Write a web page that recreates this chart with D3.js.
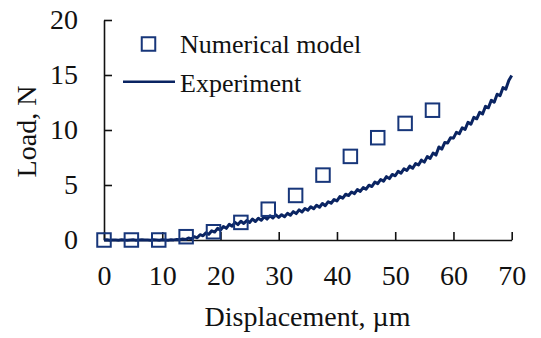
<!DOCTYPE html>
<html>
<head>
<meta charset="utf-8">
<script src="https://cdn.jsdelivr.net/npm/d3@7"></script>
<style>
  html, body { margin: 0; padding: 0; background: #fff; }
  svg { display: block; }
  text { font-family: "Liberation Serif", "Times New Roman", serif; fill: #111; }
</style>
</head>
<body>
<svg id="chart" width="541" height="338"></svg>
<script>
// Numerical model: displacement (µm) and load (N)
const modelDisp = [0, 4.7, 9.4, 14.1, 18.8, 23.5, 28.2, 32.9, 37.6, 42.3, 47.0, 51.7, 56.4];
const modelLoad = [0, 0, 0, 0.3, 0.75, 1.6, 2.8, 4.05, 5.9, 7.6, 9.3, 10.6, 11.8];

// Experiment: measured load trace
const expDisp = [
  0, 0.5, 1, 1.5, 2, 2.5, 3, 3.5, 4, 4.5, 5, 5.5, 6, 6.5, 7, 7.5, 8, 8.5, 9, 9.5,
  10, 10.5, 11, 11.5, 12, 12.5, 13, 13.5, 14, 14.5, 15, 15.5, 16, 16.5, 17, 17.5, 18, 18.5, 19, 19.5,
  20, 20.5, 21, 21.5, 22, 22.5, 23, 23.5, 24, 24.5, 25, 25.5, 26, 26.5, 27, 27.5, 28, 28.5, 29, 29.5,
  30, 30.5, 31, 31.5, 32, 32.5, 33, 33.5, 34, 34.5, 35, 35.5, 36, 36.5, 37, 37.5, 38, 38.5, 39, 39.5,
  40, 40.5, 41, 41.5, 42, 42.5, 43, 43.5, 44, 44.5, 45, 45.5, 46, 46.5, 47, 47.5, 48, 48.5, 49, 49.5,
  50, 50.5, 51, 51.5, 52, 52.5, 53, 53.5, 54, 54.5, 55, 55.5, 56, 56.5, 57, 57.5, 58, 58.5, 59, 59.5,
  60, 60.5, 61, 61.5, 62, 62.5, 63, 63.5, 64, 64.5, 65, 65.5, 66, 66.5, 67, 67.5, 68, 68.5, 69, 69.5, 70
];
const expLoad = [
  0.00, 0.02, -0.03, 0.01, 0.00, -0.02, 0.03, 0.00, -0.02, 0.01, 0.02, -0.03, 0.00, 0.02, -0.01, 0.01, -0.02, 0.03, 0.00, -0.03,
  0.02, 0.00, -0.02, 0.03, 0.01, 0.05, 0.02, 0.09, 0.04, 0.18, 0.10, 0.30, 0.20, 0.48, 0.38, 0.65, 0.52, 0.84, 0.72, 1.06,
  0.90, 1.22, 1.06, 1.42, 1.26, 1.60, 1.40, 1.70, 1.50, 1.76, 1.60, 1.90, 1.68, 1.98, 1.80, 2.12, 1.90, 2.20, 2.00, 2.28,
  2.05, 2.30, 2.12, 2.42, 2.25, 2.58, 2.40, 2.74, 2.55, 2.86, 2.70, 3.02, 2.84, 3.16, 2.98, 3.32, 3.12, 3.48, 3.34, 3.68,
  3.55, 3.94, 3.80, 4.16, 4.04, 4.36, 4.22, 4.58, 4.42, 4.76, 4.62, 4.98, 4.86, 5.26, 5.12, 5.50, 5.35, 5.76, 5.58, 5.96,
  5.84, 6.24, 6.08, 6.48, 6.32, 6.72, 6.52, 6.94, 6.82, 7.26, 7.08, 7.58, 7.42, 7.90, 7.72, 8.46, 8.26, 8.86, 8.82, 9.30,
  9.26, 9.78, 9.66, 10.20, 10.06, 10.70, 10.52, 11.15, 11.02, 11.60, 11.46, 12.15, 12.02, 12.70, 12.52, 13.25, 13.12, 13.85, 13.72, 14.50, 14.95
];

const xTicks = [0, 10, 20, 30, 40, 50, 60, 70];
const yTicks = [0, 5, 10, 15, 20];
const seriesNames = ["Numerical model", "Experiment"];
const xTitle = "Displacement, µm";
const yTitle = "Load, N";

const lineColor = "#0a2462";
const markerColor = "#17367a";

const svg = d3.select("#chart");
const x = d3.scaleLinear().domain([0, 70]).range([104, 511.7]);
const y = d3.scaleLinear().domain([0, 20]).range([240, 20]);

// Axes with ticks pointing into the plot
const xAxis = d3.axisBottom(x).tickValues(xTicks).tickSizeInner(-8).tickSizeOuter(0).tickPadding(25);
const yAxis = d3.axisLeft(y).tickValues(yTicks).tickSizeInner(-8).tickSizeOuter(0).tickPadding(26);

const gx = svg.append("g").attr("transform", `translate(0,${y(0)})`).call(xAxis);
const gy = svg.append("g").attr("transform", `translate(${x(0)},0)`).call(yAxis);

[gx, gy].forEach(g => {
  g.attr("font-family", null).attr("font-size", null);
  g.select(".domain").attr("stroke", "#111").attr("stroke-width", 1.6);
  g.selectAll(".tick line").attr("stroke", "#111").attr("stroke-width", 1.6);
  g.selectAll(".tick text")
    .style("font-family", "'Liberation Serif', 'Times New Roman', serif")
    .style("font-size", "28px")
    .attr("fill", "#111");
});
gx.selectAll(".tick text").attr("dy", "0.71em");

// Experiment trace
const line = d3.line().x((d, i) => x(expDisp[i])).y(d => y(d));
svg.append("path")
  .datum(expLoad)
  .attr("d", line)
  .attr("fill", "none")
  .attr("stroke", lineColor)
  .attr("stroke-width", 3)
  .attr("stroke-linejoin", "round");

// Numerical model markers
const sq = 13.5;
svg.append("g").selectAll("rect")
  .data(modelLoad)
  .join("rect")
  .attr("x", (d, i) => x(modelDisp[i]) - sq / 2)
  .attr("y", d => y(d) - sq / 2)
  .attr("width", sq)
  .attr("height", sq)
  .attr("fill", "none")
  .attr("stroke", markerColor)
  .attr("stroke-width", 2);

// Legend
const leg = svg.append("g");
leg.append("rect")
  .attr("x", 148.5 - sq / 2).attr("y", 44 - sq / 2)
  .attr("width", sq).attr("height", sq)
  .attr("fill", "none").attr("stroke", markerColor).attr("stroke-width", 2);
leg.append("text").attr("x", 180).attr("y", 52.5)
  .style("font-size", "26px").text(seriesNames[0]);
leg.append("line")
  .attr("x1", 123).attr("x2", 175).attr("y1", 81.7).attr("y2", 81.7)
  .attr("stroke", lineColor).attr("stroke-width", 2.6);
leg.append("text").attr("x", 180).attr("y", 91.7)
  .style("font-size", "26px").text(seriesNames[1]);

// Axis titles
svg.append("text")
  .attr("x", 307.5).attr("y", 326)
  .attr("text-anchor", "middle")
  .style("font-size", "28px")
  .text(xTitle);
svg.append("text")
  .attr("transform", "translate(36,131.5) rotate(-90)")
  .attr("text-anchor", "middle")
  .style("font-size", "28px")
  .text(yTitle);
</script>
</body>
</html>
